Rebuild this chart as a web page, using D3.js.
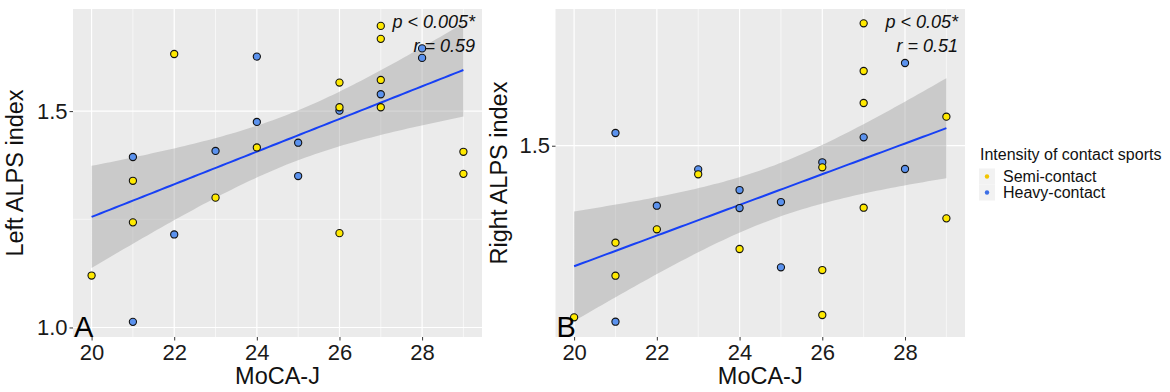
<!DOCTYPE html>
<html>
<head>
<meta charset="utf-8">
<script src="https://cdn.jsdelivr.net/npm/d3@7"></script>
<style>
  body { margin: 0; background: #fff; }
  text { font-family: "Liberation Sans", Arial, Helvetica, sans-serif; }
</style>
</head>
<body>
<svg id="chart"></svg>
<script>
// MoCA-J scores per group (same participants in both panels)
const groups = ['Semi-contact', 'Heavy-contact'];
const semiMoca = [20, 21, 21, 22, 23, 24, 26, 26, 26, 27, 27, 27, 27, 29, 29];
const heavyMoca = [21, 21, 22, 23, 24, 24, 25, 25, 26, 27, 28, 28];

// ALPS index values
const leftSemiAlps = [1.120, 1.339, 1.243, 1.632, 1.300, 1.416, 1.566, 1.509, 1.218, 1.697, 1.667, 1.572, 1.509, 1.406, 1.355];
const leftHeavyAlps = [1.394, 1.013, 1.215, 1.408, 1.626, 1.475, 1.427, 1.350, 1.501, 1.539, 1.645, 1.623];
const rightSemiAlps = [1.2855, 1.3788, 1.3375, 1.3955, 1.4643, 1.3709, 1.473, 1.3446, 1.2884, 1.653, 1.5934, 1.5534, 1.4225, 1.5363, 1.4092];
const rightHeavyAlps = [1.5159, 1.280, 1.425, 1.4705, 1.4446, 1.4221, 1.4296, 1.348, 1.4793, 1.5105, 1.6034, 1.4709];

const xTicks = [20, 22, 24, 26, 28];
const yTicks = [1.0, 1.5];

const svg = d3.select('#chart')
    .attr('width', 1170)
    .attr('height', 392);

const fillColor = {'Semi-contact': '#FFE900', 'Heavy-contact': '#5B92EE'};
const keyColor = {'Semi-contact': '#F2C500', 'Heavy-contact': '#3D6FE6'};

function makePoints(semiY, heavyY) {
  // heavy-contact first so semi-contact points sit on top
  const heavy = heavyMoca.map((x, i) => ({x, y: heavyY[i], group: 'Heavy-contact'}));
  const semi = semiMoca.map((x, i) => ({x, y: semiY[i], group: 'Semi-contact'}));
  return heavy.concat(semi);
}

// linear fit with 95% confidence band, like geom_smooth(method = 'lm')
function linearFit(points) {
  const n = points.length;
  const mx = d3.mean(points, d => d.x);
  const my = d3.mean(points, d => d.y);
  const sxx = d3.sum(points, d => (d.x - mx) ** 2);
  const sxy = d3.sum(points, d => (d.x - mx) * (d.y - my));
  const slope = sxy / sxx;
  const icpt = my - slope * mx;
  const rss = d3.sum(points, d => (d.y - icpt - slope * d.x) ** 2);
  const s = Math.sqrt(rss / (n - 2));
  const tCrit = 2.0595; // t(0.975, df = 25)
  const [x0, x1] = d3.extent(points, d => d.x);
  return d3.range(81).map(i => {
    const x = x0 + (x1 - x0) * i / 80;
    const fit = icpt + slope * x;
    const se = s * Math.sqrt(1 / n + (x - mx) ** 2 / sxx);
    return {x, fit, lo: fit - tCrit * se, hi: fit + tCrit * se};
  });
}

function drawPanel(cfg) {
  const x = d3.scaleLinear().domain([19.55, 29.45]).range([cfg.left, cfg.right]);
  const y = d3.scaleLinear().domain(cfg.yDomain).range([cfg.bottom, cfg.top]);
  const g = svg.append('g');

  g.append('rect')
      .attr('x', cfg.left).attr('y', cfg.top)
      .attr('width', cfg.right - cfg.left).attr('height', cfg.bottom - cfg.top)
      .attr('fill', '#EBEBEB');

  const inY = v => v >= cfg.yDomain[0] && v <= cfg.yDomain[1];
  const minorY = [0.75, 1.25, 1.75].filter(inY);
  const majorY = yTicks.filter(inY);
  const minorX = [21, 23, 25, 27, 29];

  g.selectAll('.minor-y').data(minorY).join('line')
      .attr('x1', cfg.left).attr('x2', cfg.right)
      .attr('y1', d => y(d)).attr('y2', d => y(d))
      .attr('stroke', '#fff').attr('stroke-width', 0.6);
  g.selectAll('.minor-x').data(minorX).join('line')
      .attr('x1', d => x(d)).attr('x2', d => x(d))
      .attr('y1', cfg.top).attr('y2', cfg.bottom)
      .attr('stroke', '#fff').attr('stroke-width', 0.6);
  g.selectAll('.major-y').data(majorY).join('line')
      .attr('x1', cfg.left).attr('x2', cfg.right)
      .attr('y1', d => y(d)).attr('y2', d => y(d))
      .attr('stroke', '#fff').attr('stroke-width', 1.2);
  g.selectAll('.major-x').data(xTicks).join('line')
      .attr('x1', d => x(d)).attr('x2', d => x(d))
      .attr('y1', cfg.top).attr('y2', cfg.bottom)
      .attr('stroke', '#fff').attr('stroke-width', 1.2);

  const points = makePoints(cfg.semi, cfg.heavy);
  const band = linearFit(points);

  g.append('path')
      .datum(band)
      .attr('fill', '#999999').attr('fill-opacity', 0.4)
      .attr('d', d3.area().x(d => x(d.x)).y0(d => y(d.lo)).y1(d => y(d.hi)));
  g.append('path')
      .datum(band)
      .attr('fill', 'none').attr('stroke', '#1740F5').attr('stroke-width', 2)
      .attr('d', d3.line().x(d => x(d.x)).y(d => y(d.fit)));

  g.selectAll('.pt').data(points).join('circle')
      .attr('cx', d => x(d.x)).attr('cy', d => y(d.y))
      .attr('r', 3.6)
      .attr('fill', d => fillColor[d.group])
      .attr('stroke', '#111').attr('stroke-width', 1.1);

  // axes
  const xAxis = d3.axisBottom(x).tickValues(xTicks).tickSize(3.5).tickPadding(4).tickFormat(d3.format('d'));
  const yAxis = d3.axisLeft(y).tickValues(majorY).tickSize(3.5).tickPadding(2).tickFormat(d3.format('.1f'));
  const xg = g.append('g').attr('transform', `translate(0,${cfg.bottom})`).call(xAxis);
  const yg = g.append('g').attr('transform', `translate(${cfg.left},0)`).call(yAxis);
  [xg, yg].forEach(a => {
    a.select('.domain').remove();
    a.selectAll('line').attr('stroke', '#333');
    a.selectAll('text').attr('fill', '#1a1a1a').attr('font-size', 22)
        .attr('font-family', '"Liberation Sans", Arial, sans-serif');
  });

  g.append('text')
      .attr('x', (cfg.left + cfg.right) / 2).attr('y', 384)
      .attr('text-anchor', 'middle').attr('font-size', 23.5).attr('fill', '#111')
      .text('MoCA-J');
  g.append('text')
      .attr('transform', `translate(${cfg.titleX},${(cfg.top + cfg.bottom) / 2}) rotate(-90)`)
      .attr('text-anchor', 'middle').attr('font-size', 23.5).attr('fill', '#111')
      .text(cfg.yTitle);

  // statistics
  const stat = g.append('text')
      .attr('text-anchor', 'end').attr('font-size', 18).attr('font-style', 'italic').attr('fill', '#111');
  stat.append('tspan').attr('x', cfg.right - 7).attr('y', 28).text(cfg.pText);
  stat.append('tspan').attr('x', cfg.right - 7).attr('y', 52).text(cfg.rText);

  g.append('text')
      .attr('x', cfg.left + 1).attr('y', cfg.bottom)
      .attr('font-size', 29).attr('fill', '#000')
      .text(cfg.label);
}

drawPanel({
  left: 73, right: 482, top: 9, bottom: 337,
  yDomain: [0.978, 1.736],
  semi: leftSemiAlps, heavy: leftHeavyAlps,
  yTitle: 'Left ALPS index', titleX: 23,
  pText: 'p < 0.005*', rText: 'r = 0.59', label: 'A'
});

drawPanel({
  left: 555.5, right: 965, top: 9, bottom: 337,
  yDomain: [1.2609, 1.6709],
  semi: rightSemiAlps, heavy: rightHeavyAlps,
  yTitle: 'Right ALPS index', titleX: 507,
  pText: 'p < 0.05*', rText: 'r = 0.51', label: 'B'
});

// legend
const legend = svg.append('g').attr('transform', 'translate(979,0)');
legend.append('text')
    .attr('x', 1).attr('y', 159.5)
    .attr('font-size', 16).attr('fill', '#111')
    .text('Intensity of contact sports');
const keys = legend.selectAll('.key').data(groups).join('g')
    .attr('transform', (d, i) => `translate(0,${168.5 + i * 16})`);
keys.append('rect')
    .attr('width', 16).attr('height', 16).attr('fill', '#F2F2F2');
keys.append('circle')
    .attr('cx', 8).attr('cy', 8).attr('r', 2.2)
    .attr('fill', d => keyColor[d]);
keys.append('text')
    .attr('x', 24).attr('y', 8).attr('dy', '0.36em')
    .attr('font-size', 16).attr('fill', '#111')
    .text(d => d);
</script>
</body>
</html>
